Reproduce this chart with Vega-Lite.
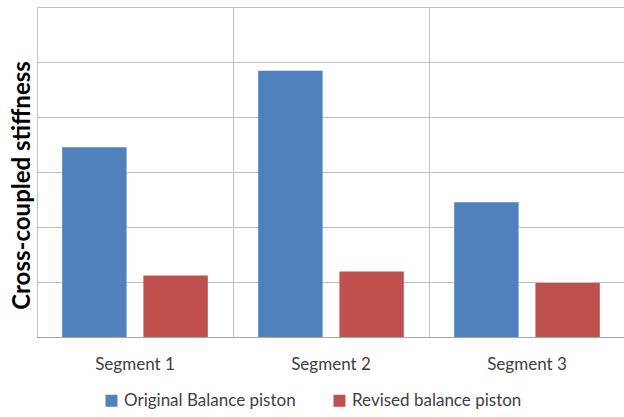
{
  "$schema": "https://vega.github.io/schema/vega-lite/v6.json",
  "width": 588,
  "height": 330,
  "autosize": "none",
  "padding": {"left": 37, "top": 7, "right": 0, "bottom": 80},
  "background": "white",
  "data": {
    "values": [
      {"segment": "Segment 1", "series": "Original Balance piston", "value": 3.45},
      {"segment": "Segment 1", "series": "Revised balance piston", "value": 1.12},
      {"segment": "Segment 2", "series": "Original Balance piston", "value": 4.84},
      {"segment": "Segment 2", "series": "Revised balance piston", "value": 1.19},
      {"segment": "Segment 3", "series": "Original Balance piston", "value": 2.45},
      {"segment": "Segment 3", "series": "Revised balance piston", "value": 0.98}
    ]
  },
  "config": {
    "view": {"stroke": null},
    "font": "Lato"
  },
  "mark": {"type": "bar"},
  "encoding": {
    "x": {
      "field": "segment",
      "type": "nominal",
      "scale": {"paddingInner": 0, "paddingOuter": 0},
      "axis": {
        "title": null,
        "labelAngle": 0,
        "labelFontSize": 17,
        "labelColor": "#404040",
        "labelPadding": 19,
        "ticks": false,
        "domainColor": "#a6a6a6",
        "grid": true,
        "bandPosition": 0,
        "gridColor": "#bfbfbf"
      }
    },
    "xOffset": {
      "field": "series",
      "scale": {"paddingInner": 0.207, "paddingOuter": 0.31}
    },
    "y": {
      "field": "value",
      "type": "quantitative",
      "scale": {"domain": [0, 6], "nice": false},
      "axis": {
        "title": "Cross-coupled stiffness",
        "titleFontSize": 24,
        "titleFontWeight": "bold",
        "titleColor": "#000000",
        "titlePadding": 3,
        "titleLimit": 0,
        "titleY": 178,
        "labels": false,
        "ticks": false,
        "domain": false,
        "values": [0, 1, 2, 3, 4, 5, 6],
        "grid": true,
        "gridColor": "#bfbfbf"
      }
    },
    "color": {
      "field": "series",
      "type": "nominal",
      "scale": {"range": ["#4f81bd", "#c0504d"]},
      "legend": {
        "title": null,
        "orient": "none",
        "direction": "horizontal",
        "legendX": 66,
        "legendY": 385,
        "symbolType": "square",
        "symbolSize": 144,
        "symbolStrokeWidth": 0,
        "labelFontSize": 17,
        "labelLimit": 0,
        "labelColor": "#404040",
        "labelOffset": 4,
        "columnPadding": 35
      }
    }
  }
}
